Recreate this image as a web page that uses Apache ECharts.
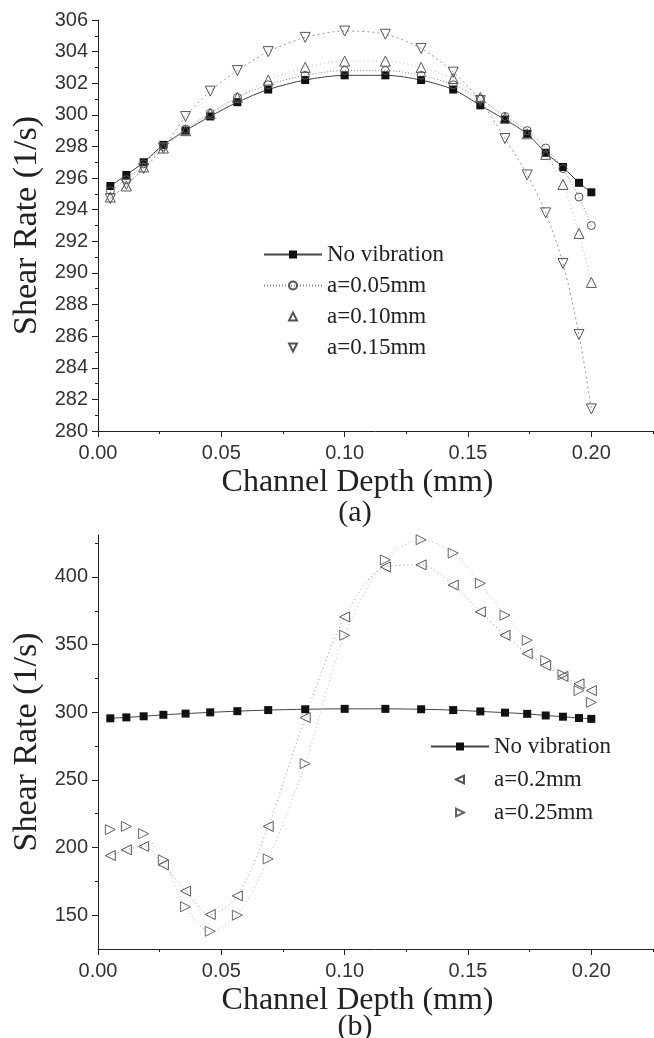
<!DOCTYPE html>
<html>
<head>
<meta charset="utf-8">
<script src="https://cdn.jsdelivr.net/npm/echarts@6/dist/echarts.min.js"></script>
<style>
  html, body { margin: 0; padding: 0; background: #fff; }
  #chart { width: 654px; height: 1038px; }
</style>
</head>
<body>
<div id="chart"></div>
<script>
// channel depth (mm) of every sample point
var depth = [0.005, 0.0115, 0.0185, 0.0265, 0.0355, 0.0455, 0.0565, 0.069, 0.084, 0.100,
             0.1165, 0.131, 0.144, 0.155, 0.165, 0.174, 0.1815, 0.1885, 0.195, 0.200]

// shear rate (1/s)
var noVibration = [295.5, 296.2, 297.0, 298.1, 299.0, 299.9, 300.8, 301.6, 302.2, 302.5,
                   302.5, 302.2, 301.6, 300.6, 299.7, 298.8, 297.6, 296.7, 295.7, 295.1]
var amp005 = [295.2, 295.9, 296.9, 298.0, 299.1, 300.1, 301.1, 301.9, 302.5, 302.8,
              302.8, 302.5, 301.9, 301.0, 299.9, 299.0, 297.9, 296.6, 294.8, 293.0]
var amp010 = [294.8, 295.5, 296.7, 297.9, 299.0, 300.1, 301.1, 302.2, 303.0, 303.4,
              303.4, 303.0, 302.3, 301.1, 299.8, 298.8, 297.5, 295.6, 292.5, 289.4]
var amp015 = [294.7, 295.6, 296.6, 297.9, 299.9, 301.5, 302.8, 304.0, 304.9, 305.3,
              305.1, 304.2, 302.7, 300.9, 298.5, 296.2, 293.8, 290.6, 286.1, 281.4]
var amp020 = [194.1, 198.3, 200.8, 187.2, 167.8, 150.5, 164.3, 215.6, 296.0, 370.5,
              407.4, 408.9, 394.0, 374.2, 356.9, 343.3, 334.6, 326.5, 321.0, 316.0]
var amp025 = [213.2, 215.6, 210.2, 190.9, 156.2, 138.1, 150.0, 191.6, 262.0, 356.9,
              412.6, 427.5, 417.6, 395.3, 371.7, 353.2, 338.3, 327.7, 316.0, 307.3]

// ticks
var xMajor = [0, 0.05, 0.10, 0.15, 0.20]
var xMinor = [0.025, 0.075, 0.125, 0.175, 0.225]
var yMajorB = [150, 200, 250, 300, 350, 400]
var yMinorB = [175, 225, 275, 325, 375, 425]

var serif = 'Liberation Serif'
var sans = 'Liberation Sans'
var ink = '#222'

// legend rows; the last ones show the marker only, as in the figure
var noLine = { opacity: 0 }
var legendA = [
  { name: 'No vibration' },
  { name: 'a=0.05mm' },
  { name: 'a=0.10mm', lineStyle: noLine },
  { name: 'a=0.15mm', lineStyle: noLine }
]
var legendB = [
  { name: 'No vibration' },
  { name: 'a=0.2mm', lineStyle: noLine },
  { name: 'a=0.25mm', lineStyle: noLine }
]

function pairs(ys) {
  return depth.map(function(x, i) { return [x, ys[i]] })
}

function xAxisMain(grid) {
  return {
    gridIndex: grid,
    type: 'value',
    position: 'bottom',
    min: 0,
    max: 0.225,
    axisLine: { onZero: false, lineStyle: { color: ink, width: 1 } },
    axisTick: { customValues: xMajor, length: 6, lineStyle: { color: ink } },
    axisLabel: {
      customValues: xMajor,
      margin: 12,
      color: '#333',
      fontFamily: sans,
      fontSize: 20,
      formatter: function(v) { return v.toFixed(2) }
    },
    splitLine: { show: false },
    name: 'Channel Depth (mm)',
    nameLocation: 'middle',
    nameGap: 36,
    nameTextStyle: { fontFamily: serif, fontSize: 32, color: ink, padding: [0, 36, 0, 0] }
  }
}

function xAxisMinor(grid) {
  return {
    gridIndex: grid,
    type: 'value',
    position: 'bottom',
    min: 0,
    max: 0.225,
    axisLine: { show: false, onZero: false },
    axisTick: { customValues: xMinor, length: 3, lineStyle: { color: ink } },
    axisLabel: { show: false },
    splitLine: { show: false }
  }
}

function legendBox(rows, left, top, gap) {
  return {
    data: rows,
    orient: 'vertical',
    left: left,
    top: top,
    padding: 0,
    itemWidth: 58,
    itemHeight: 10,
    itemGap: gap,
    selectedMode: false,
    textStyle: { fontFamily: serif, fontSize: 23, color: ink, lineHeight: 20 }
  }
}

var yName = {
  name: 'Shear Rate (1/s)',
  nameLocation: 'middle',
  nameGap: 51,
  nameTextStyle: { fontFamily: serif, fontSize: 34, color: ink }
}

var hollow = function(c) {
  return { color: 'rgba(255,255,255,0)', borderColor: c, borderWidth: 1 }
}

var option = {
  animation: false,
  backgroundColor: '#fff',
  grid: [
    { left: 98, right: 1, top: 20, height: 411 },
    { left: 98, right: 1, top: 535, height: 414 }
  ],
  xAxis: [xAxisMain(0), xAxisMinor(0), xAxisMain(1), xAxisMinor(1)],
  yAxis: [
    Object.assign({
      gridIndex: 0,
      type: 'value',
      position: 'left',
      min: 280,
      max: 306,
      interval: 2,
      axisLine: { show: true, onZero: false, lineStyle: { color: ink, width: 1 } },
      axisTick: { show: true, length: 6, lineStyle: { color: ink } },
      minorTick: { show: true, splitNumber: 2, length: 3, lineStyle: { color: ink } },
      axisLabel: { margin: 10, color: '#333', fontFamily: sans, fontSize: 20 },
      splitLine: { show: false }
    }, yName),
    Object.assign({
      gridIndex: 1,
      type: 'value',
      position: 'left',
      min: 125,
      max: 431,
      axisLine: { show: true, onZero: false, lineStyle: { color: ink, width: 1 } },
      axisTick: { show: true, customValues: yMajorB, length: 6, lineStyle: { color: ink } },
      axisLabel: { customValues: yMajorB, margin: 10, color: '#333', fontFamily: sans, fontSize: 20 },
      splitLine: { show: false }
    }, yName),
    {
      gridIndex: 1,
      type: 'value',
      position: 'left',
      min: 125,
      max: 431,
      axisLine: { show: false, onZero: false },
      axisTick: { show: true, customValues: yMinorB, length: 3, lineStyle: { color: ink } },
      axisLabel: { show: false },
      splitLine: { show: false }
    }
  ],
  legend: [legendBox(legendA, 263, 243, 8), legendBox(legendB, 430, 735, 10)],
  graphic: [
    { type: 'text', x: 355, y: 513, style: { text: '(a)', align: 'center', verticalAlign: 'middle', font: '30px "Liberation Serif"', fill: ink } },
    { type: 'text', x: 355, y: 1027, style: { text: '(b)', align: 'center', verticalAlign: 'middle', font: '30px "Liberation Serif"', fill: ink } }
  ],
  series: [
    {
      name: 'No vibration',
      type: 'line',
      xAxisIndex: 0,
      yAxisIndex: 0,
      smooth: 0.3,
      symbol: 'rect',
      symbolSize: 8,
      itemStyle: { color: '#111' },
      lineStyle: { color: '#444', width: 1 },
      data: pairs(noVibration)
    },
    {
      name: 'a=0.05mm',
      type: 'line',
      xAxisIndex: 0,
      yAxisIndex: 0,
      smooth: 0.3,
      symbol: 'circle',
      symbolSize: 8,
      itemStyle: hollow('#555'),
      lineStyle: { color: '#888', width: 1, type: [1, 2] },
      data: pairs(amp005)
    },
    {
      name: 'a=0.10mm',
      type: 'line',
      xAxisIndex: 0,
      yAxisIndex: 0,
      smooth: 0.3,
      symbol: 'triangle',
      symbolSize: 10,
      itemStyle: hollow('#555'),
      lineStyle: { color: '#bbb', width: 1, type: [1, 3] },
      data: pairs(amp010)
    },
    {
      name: 'a=0.15mm',
      type: 'line',
      xAxisIndex: 0,
      yAxisIndex: 0,
      smooth: 0.3,
      symbol: 'triangle',
      symbolRotate: 180,
      symbolSize: 10,
      itemStyle: hollow('#555'),
      lineStyle: { color: '#999', width: 1, type: [2, 3] },
      data: pairs(amp015)
    },
    {
      name: 'No vibration',
      type: 'line',
      xAxisIndex: 2,
      yAxisIndex: 1,
      smooth: 0.3,
      symbol: 'rect',
      symbolSize: 8,
      itemStyle: { color: '#111' },
      lineStyle: { color: '#444', width: 1 },
      data: pairs(noVibration)
    },
    {
      name: 'a=0.2mm',
      type: 'line',
      xAxisIndex: 2,
      yAxisIndex: 1,
      smooth: 0.3,
      symbol: 'triangle',
      symbolRotate: 90,
      symbolSize: 10,
      itemStyle: hollow('#555'),
      lineStyle: { color: '#999', width: 1, type: [1, 3] },
      data: pairs(amp020)
    },
    {
      name: 'a=0.25mm',
      type: 'line',
      xAxisIndex: 2,
      yAxisIndex: 1,
      smooth: 0.3,
      symbol: 'triangle',
      symbolRotate: -90,
      symbolSize: 10,
      itemStyle: hollow('#666'),
      lineStyle: { color: '#bbb', width: 1, type: [1, 3] },
      data: pairs(amp025)
    }
  ]
}

var chart = echarts.init(document.getElementById('chart'))
chart.setOption(option)
</script>
</body>
</html>
